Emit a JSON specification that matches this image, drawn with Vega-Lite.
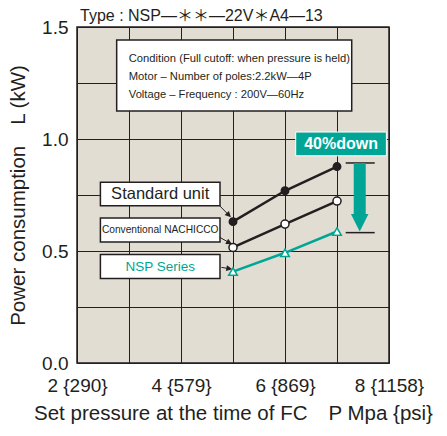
{
  "$schema": "https://vega.github.io/schema/vega-lite/v6.json",
  "width": 312,
  "height": 336,
  "autosize": {"type": "none"},
  "padding": {"left": 77, "top": 27, "right": 58, "bottom": 73},
  "background": "white",
  "config": {
    "view": {"fill": "#e2ddd3", "stroke": "#231f20", "strokeWidth": 1.5},
    "font": "Liberation Sans"
  },
  "title": {
    "text": "Type : NSP―＊＊―22V＊A4―13",
    "anchor": "start",
    "frame": "group",
    "font": "Liberation Sans, Noto Sans CJK JP",
    "fontSize": 16,
    "fontWeight": "normal",
    "color": "#231f20",
    "offset": 4,
    "dx": 3,
    "dy": 10
  },
  "datasets": {
    "series": [
      {"series": "Standard unit", "p": 5, "kw": 0.631},
      {"series": "Standard unit", "p": 6, "kw": 0.769},
      {"series": "Standard unit", "p": 7, "kw": 0.877},
      {"series": "Conventional NACHICCO", "p": 5, "kw": 0.516},
      {"series": "Conventional NACHICCO", "p": 6, "kw": 0.62},
      {"series": "Conventional NACHICCO", "p": 7, "kw": 0.723},
      {"series": "NSP Series", "p": 5, "kw": 0.408},
      {"series": "NSP Series", "p": 6, "kw": 0.492},
      {"series": "NSP Series", "p": 7, "kw": 0.587}
    ],
    "boxes": [
      {"name": "cond", "x": 2.763, "x2": 7.283, "y": 1.442, "y2": 1.125},
      {"name": "std", "x": 2.45, "x2": 4.75, "y": 0.807, "y2": 0.702},
      {"name": "conv", "x": 2.45, "x2": 4.75, "y": 0.647, "y2": 0.54},
      {"name": "nsp", "x": 2.45, "x2": 4.75, "y": 0.484, "y2": 0.377}
    ],
    "condText": [
      {"t": "Condition (Full cutoff: when pressure is held)", "x": 2.996, "y": 1.357},
      {"t": "Motor – Number of poles:2.2kW―4P", "x": 2.996, "y": 1.278},
      {"t": "Voltage – Frequency : 200V―60Hz", "x": 2.996, "y": 1.196}
    ],
    "labels": [
      {"t": "Standard unit", "x": 3.6, "y": 0.754, "c": "#231f20", "s": 16.5},
      {"t": "Conventional NACHICCO", "x": 3.6, "y": 0.593, "c": "#231f20", "s": 10.2},
      {"t": "NSP Series", "x": 3.6, "y": 0.43, "c": "#00a596", "s": 13.5}
    ],
    "pointers": [
      {"x": 4.731, "y": 0.705, "x2": 4.92, "y2": 0.66, "a": -44},
      {"x": 4.744, "y": 0.561, "x2": 4.93, "y2": 0.537, "a": -61},
      {"x": 4.777, "y": 0.427, "x2": 4.93, "y2": 0.421, "a": -79}
    ],
    "brackets": [
      {"x": 7.167, "x2": 7.725, "y": 0.893},
      {"x": 7.167, "x2": 7.725, "y": 0.582}
    ],
    "shaft": [{"x": 7.437, "y": 0.893, "y2": 0.66}],
    "head": [{"x": 7.437, "y": 0.626}],
    "badge": [{"x": 6.206, "x2": 7.95, "y": 1.031, "y2": 0.925, "t": "40%down", "cx": 7.078, "cy": 0.978}]
  },
  "layer": [
    {
      "data": {"name": "boxes"},
      "mark": {"type": "rect", "fill": "white", "stroke": "#231f20", "strokeWidth": 1.5},
      "encoding": {
        "x": {
          "field": "x", "type": "quantitative",
          "scale": {"domain": [2, 8], "nice": false, "zero": false},
          "axis": {
            "values": [2, 3, 4, 5, 6, 7, 8],
            "labelExpr": "datum.value == 2 ? '2 {290}' : datum.value == 4 ? '4 {579}' : datum.value == 6 ? '6 {869}' : datum.value == 8 ? '8 {1158}' : ''",
            "grid": true, "gridColor": "#231f20", "gridWidth": 1, "gridOpacity": 1,
            "ticks": false, "domain": false,
            "labelFontSize": 19, "labelColor": "#231f20", "labelPadding": 13, "labelFlush": false,
            "labelOverlap": false,
            "title": "Set pressure at the time of FC　P Mpa {psi}",
            "titleFontSize": 20.5, "titleFontWeight": "normal", "titleColor": "#231f20", "titlePadding": 8
          }
        },
        "x2": {"field": "x2"},
        "y": {
          "field": "y", "type": "quantitative",
          "scale": {"domain": [0, 1.5], "nice": false},
          "axis": {
            "values": [0, 0.25, 0.5, 0.75, 1, 1.25, 1.5],
            "labelExpr": "(datum.value * 4) % 2 == 0 ? format(datum.value, '.1f') : ''",
            "grid": true, "gridColor": "#231f20", "gridWidth": 1, "gridOpacity": 1,
            "ticks": false, "domain": false,
            "labelFontSize": 19, "labelColor": "#231f20", "labelPadding": 9,
            "labelOverlap": false,
            "title": "Power consumption　L (kW)",
            "titleFontSize": 20.5, "titleFontWeight": "normal", "titleColor": "#231f20", "titlePadding": 13
          }
        },
        "y2": {"field": "y2"}
      }
    },
    {
      "data": {"name": "badge"},
      "mark": {"type": "rect", "fill": "#00a596", "stroke": "white", "strokeWidth": 1},
      "encoding": {
        "x": {"field": "x", "type": "quantitative"},
        "x2": {"field": "x2"},
        "y": {"field": "y", "type": "quantitative"},
        "y2": {"field": "y2"}
      }
    },
    {
      "data": {"name": "badge"},
      "mark": {"type": "text", "color": "white", "fontSize": 16, "fontWeight": "bold", "align": "center", "baseline": "middle"},
      "encoding": {
        "x": {"field": "cx", "type": "quantitative"},
        "y": {"field": "cy", "type": "quantitative"},
        "text": {"field": "t"}
      }
    },
    {
      "data": {"name": "condText"},
      "mark": {"type": "text", "color": "#231f20", "fontSize": 11.2, "align": "left", "baseline": "middle"},
      "encoding": {
        "x": {"field": "x", "type": "quantitative"},
        "y": {"field": "y", "type": "quantitative"},
        "text": {"field": "t"}
      }
    },
    {
      "data": {"name": "labels"},
      "mark": {"type": "text", "align": "center", "baseline": "middle"},
      "encoding": {
        "x": {"field": "x", "type": "quantitative"},
        "y": {"field": "y", "type": "quantitative"},
        "text": {"field": "t"},
        "color": {"field": "c", "type": "nominal", "scale": null},
        "size": {"field": "s", "type": "quantitative", "scale": null}
      }
    },
    {
      "data": {"name": "pointers"},
      "mark": {"type": "rule", "color": "#231f20", "strokeWidth": 1},
      "encoding": {
        "x": {"field": "x", "type": "quantitative"},
        "y": {"field": "y", "type": "quantitative"},
        "x2": {"field": "x2"},
        "y2": {"field": "y2"}
      }
    },
    {
      "data": {"name": "pointers"},
      "mark": {"type": "point", "shape": "M-1,-1L1,-1L0,1Z", "filled": true, "color": "#231f20", "size": 36, "opacity": 1},
      "encoding": {
        "x": {"field": "x2", "type": "quantitative"},
        "y": {"field": "y2", "type": "quantitative"},
        "angle": {"field": "a", "type": "quantitative", "scale": null}
      }
    },
    {
      "data": {"name": "series"},
      "mark": {"type": "line", "strokeWidth": 2.5},
      "encoding": {
        "x": {"field": "p", "type": "quantitative"},
        "y": {"field": "kw", "type": "quantitative"},
        "color": {
          "field": "series", "type": "nominal",
          "scale": {"domain": ["Standard unit", "Conventional NACHICCO", "NSP Series"], "range": ["#231f20", "#231f20", "#00a596"]},
          "legend": null
        }
      }
    },
    {
      "data": {"name": "series"},
      "mark": {"type": "point", "strokeWidth": 1.5, "opacity": 1, "filled": false},
      "encoding": {
        "x": {"field": "p", "type": "quantitative"},
        "y": {"field": "kw", "type": "quantitative"},
        "shape": {
          "field": "series", "type": "nominal",
          "scale": {"domain": ["Standard unit", "Conventional NACHICCO", "NSP Series"], "range": ["circle", "circle", "triangle-up"]},
          "legend": null
        },
        "fill": {
          "field": "series", "type": "nominal",
          "scale": {"domain": ["Standard unit", "Conventional NACHICCO", "NSP Series"], "range": ["#231f20", "white", "white"]},
          "legend": null
        },
        "stroke": {
          "field": "series", "type": "nominal",
          "scale": {"domain": ["Standard unit", "Conventional NACHICCO", "NSP Series"], "range": ["#231f20", "#231f20", "#00a596"]},
          "legend": null
        },
        "size": {
          "field": "series", "type": "nominal",
          "scale": {"domain": ["Standard unit", "Conventional NACHICCO", "NSP Series"], "range": [55, 75, 60]},
          "legend": null
        }
      }
    },
    {
      "data": {"name": "brackets"},
      "mark": {"type": "rule", "color": "#231f20", "strokeWidth": 1.5},
      "encoding": {
        "x": {"field": "x", "type": "quantitative"},
        "x2": {"field": "x2"},
        "y": {"field": "y", "type": "quantitative"}
      }
    },
    {
      "data": {"name": "shaft"},
      "mark": {"type": "rule", "color": "#00a596", "strokeWidth": 12, "strokeCap": "butt"},
      "encoding": {
        "x": {"field": "x", "type": "quantitative"},
        "y": {"field": "y", "type": "quantitative"},
        "y2": {"field": "y2"}
      }
    },
    {
      "data": {"name": "head"},
      "mark": {"type": "point", "shape": "M-1,-1L1,-1L0,1Z", "filled": true, "color": "#00a596", "size": 310, "opacity": 1},
      "encoding": {
        "x": {"field": "x", "type": "quantitative"},
        "y": {"field": "y", "type": "quantitative"}
      }
    }
  ]
}
